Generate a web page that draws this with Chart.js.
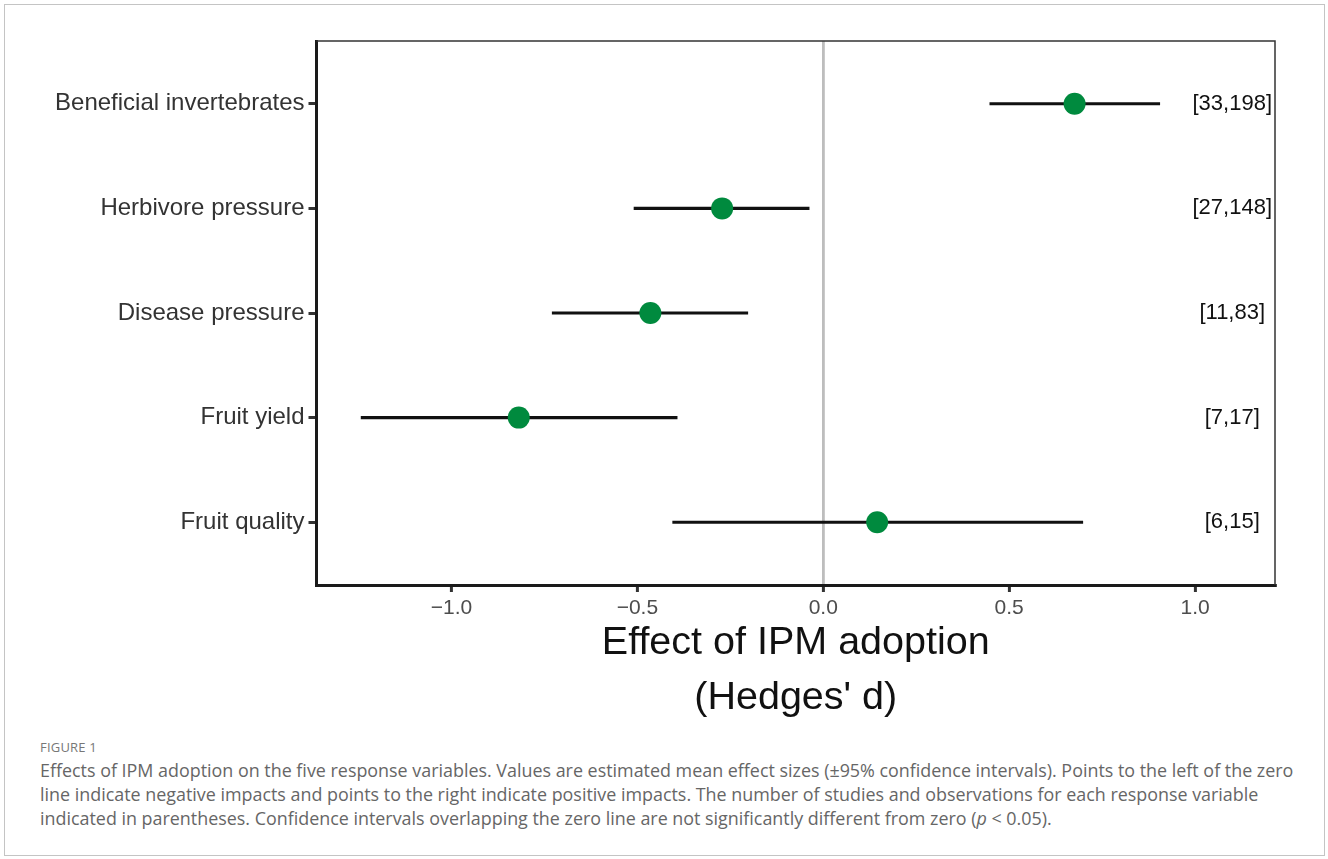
<!DOCTYPE html>
<html>
<head>
<meta charset="utf-8">
<title>Effect of IPM adoption</title>
<script src="https://cdn.jsdelivr.net/npm/chart.js@4.4.1/dist/chart.umd.min.js"></script>
<style>
  html, body { margin: 0; padding: 0; background: #fff; }
  body { width: 1328px; height: 859px; position: relative; overflow: hidden; }
  #frame { position: absolute; left: 4px; top: 4px; width: 1321px; height: 852px;
           border: 1.5px solid #c4c4c4; box-sizing: border-box; }
  #wrap { position: absolute; left: 0; top: 0; width: 1328px; height: 730px; }
  #caption { position: absolute; left: 40px; top: 738px; font-family: "Open Sans", Lato, sans-serif; color: #666; }
  #caption .fig { font-size: 13px; letter-spacing: 0.2px; color: #777; margin-bottom: 2px; }
  #caption .line { font-size: 17.9px; line-height: 24px; white-space: nowrap; }
</style>
</head>
<body>
<div id="frame"></div>
<div id="wrap"><canvas id="forest"></canvas></div>
<div id="caption">
  <div class="fig">FIGURE 1</div>
  <div class="line">Effects of IPM adoption on the five response variables. Values are estimated mean effect sizes (±95% confidence intervals). Points to the left of the zero</div>
  <div class="line">line indicate negative impacts and points to the right indicate positive impacts. The number of studies and observations for each response variable</div>
  <div class="line">indicated in parentheses. Confidence intervals overlapping the zero line are not significantly different from zero (<i>p</i> &lt; 0.05).</div>
</div>
<script>
// data
const categories = ['Beneficial invertebrates', 'Herbivore pressure', 'Disease pressure', 'Fruit yield', 'Fruit quality'];
const effectSize = [0.676, -0.272, -0.465, -0.819, 0.145];
const ciLower = [0.448, -0.509, -0.729, -1.243, -0.405];
const ciUpper = [0.905, -0.038, -0.203, -0.393, 0.698];
const studyCounts = ['[33,198]', '[27,148]', '[11,83]', '[7,17]', '[6,15]'];
const xTicks = [-1.0, -0.5, 0.0, 0.5, 1.0];

const countLabelX = 1.1; // where the [studies,obs] text sits, in effect units

Chart.defaults.font.family = '"Liberation Sans", Arial, sans-serif';

// thin top/right panel border + the study counts on the right
const panelExtras = {
  id: 'panelExtras',
  afterDatasetsDraw(chart) {
    const { ctx, chartArea, scales } = chart;
    ctx.save();
    ctx.strokeStyle = '#333';
    ctx.lineWidth = 1.5;
    ctx.beginPath();
    ctx.moveTo(chartArea.left, chartArea.top);
    ctx.lineTo(chartArea.right, chartArea.top);
    ctx.lineTo(chartArea.right, chartArea.bottom);
    ctx.stroke();

    ctx.font = '22px "Liberation Sans", Arial, sans-serif';
    ctx.fillStyle = '#111';
    ctx.textAlign = 'center';
    ctx.textBaseline = 'middle';
    for (let i = 0; i < studyCounts.length; i++) {
      ctx.fillText(studyCounts[i], scales.x.getPixelForValue(countLabelX), scales.y.getPixelForValue(i + 1));
    }
    ctx.restore();
  }
};

const ctx = document.getElementById('forest');
new Chart(ctx, {
  type: 'bar',
  data: {
    datasets: [
      {
        type: 'scatter',
        label: 'Effect size',
        data: effectSize.map((v, i) => ({ x: v, y: i + 1 })),
        backgroundColor: '#008a3e',
        borderWidth: 0,
        pointRadius: 11,
        pointHoverRadius: 11,
        order: 0
      },
      {
        type: 'bar',
        label: '95% CI',
        indexAxis: 'y',
        data: ciLower.map((lo, i) => ({ x: [lo, ciUpper[i]], y: i + 1 })),
        backgroundColor: '#111',
        barThickness: 2.4,
        order: 1
      }
    ]
  },
  options: {
    responsive: true,
    maintainAspectRatio: false,
    animation: false,
    layout: { padding: { top: 41, right: 53, left: 0, bottom: 0 } },
    plugins: {
      legend: { display: false },
      tooltip: { enabled: false }
    },
    scales: {
      x: {
        type: 'linear',
        offset: false,
        min: -1.363,
        max: 1.215,
        afterBuildTicks: function (scale) {
          scale.ticks = xTicks.map(v => ({ value: v }));
        },
        afterFit: function (scale) {
          scale.height = 145;
        },
        ticks: {
          color: '#4d4d4d',
          font: { size: 21 },
          padding: 4,
          callback: v => (v < 0 ? '\u2212' : '') + Math.abs(v).toFixed(1)
        },
        grid: {
          offset: false,
          drawOnChartArea: true,
          color: c => (c.tick && c.tick.value === 0 ? '#bdbdbd' : 'rgba(0,0,0,0)'),
          lineWidth: 2.8,
          tickColor: '#333',
          tickWidth: 3,
          tickLength: 7
        },
        border: { color: '#1a1a1a', width: 3 },
        title: {
          display: true,
          text: ['Effect of IPM adoption', "(Hedges' d)"],
          color: '#111',
          font: { size: 39.5, lineHeight: 1.4 },
          padding: { top: 0, bottom: 4 }
        }
      },
      y: {
        type: 'linear',
        offset: false,
        reverse: true,
        min: 0.4,
        max: 5.6,
        afterBuildTicks: function (scale) {
          scale.ticks = categories.map((c, i) => ({ value: i + 1 }));
        },
        afterFit: function (scale) {
          scale.width = 316.5;
        },
        ticks: {
          color: '#333',
          font: { size: 24 },
          padding: 4,
          callback: v => categories[v - 1]
        },
        grid: {
          offset: false,
          drawOnChartArea: false,
          tickColor: '#333',
          tickWidth: 3,
          tickLength: 8
        },
        border: { color: '#1a1a1a', width: 3 }
      }
    }
  },
  plugins: [panelExtras]
});
</script>
</body>
</html>
